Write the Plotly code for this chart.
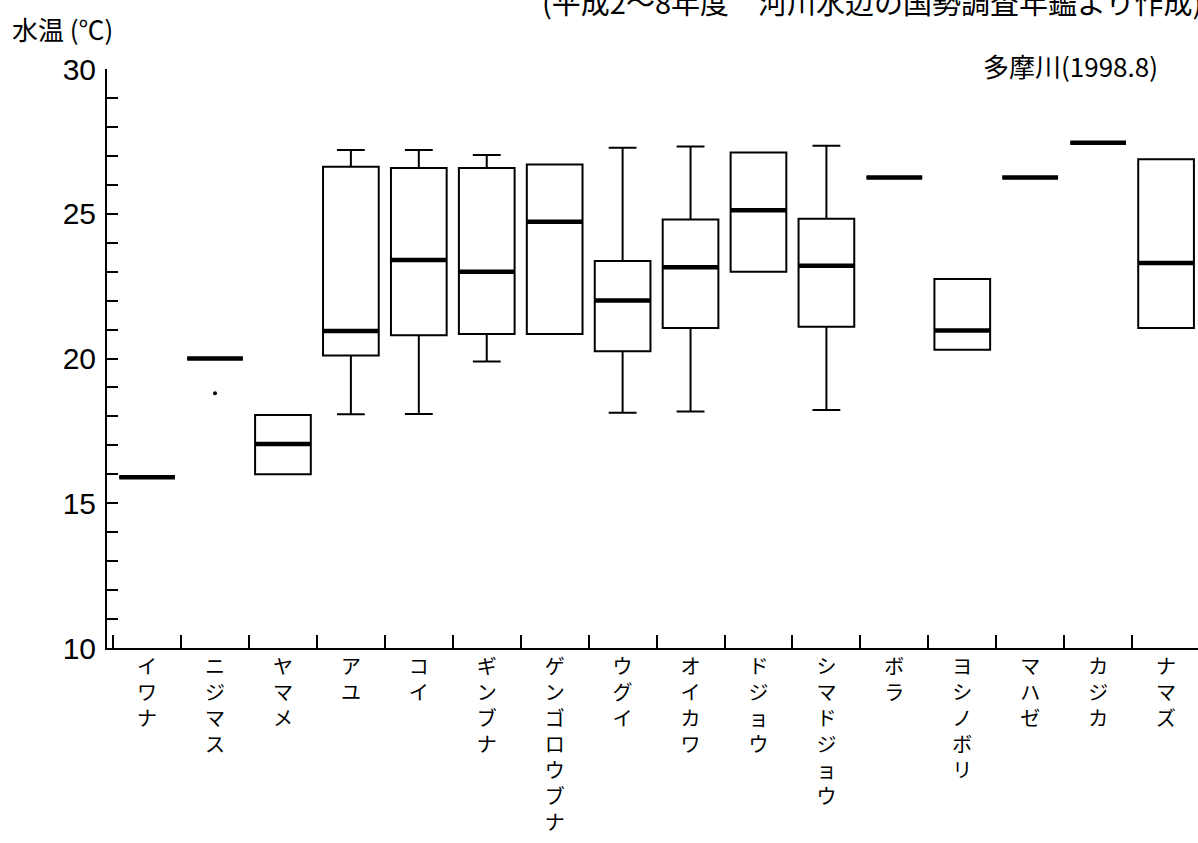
import plotly.graph_objects as go

categories = ["イワナ", "ニジマス", "ヤマメ", "アユ", "コイ", "ギンブナ", "ゲンゴロウブナ", "ウグイ",
              "オイカワ", "ドジョウ", "シマドジョウ", "ボラ", "ヨシノボリ", "マハゼ", "カジカ", "ナマズ"]
q1 = [15.9, 20.0, 16.0, 20.1, 20.8, 20.85, 20.85, 20.25, 21.05, 23.0, 21.1, 26.25, 20.3, 26.25, 27.45, 21.05]
median = [15.9, 20.0, 17.05, 20.95, 23.4, 23.0, 24.72, 22.0, 23.15, 25.12, 23.2, 26.25, 20.97, 26.25, 27.45, 23.3]
q3 = [15.9, 20.0, 18.05, 26.62, 26.58, 26.58, 26.7, 23.37, 24.8, 27.12, 24.83, 26.25, 22.75, 26.25, 27.45, 26.88]
lower = [15.9, 20.0, 16.0, 18.07, 18.08, 19.9, 20.85, 18.13, 18.17, 23.0, 18.22, 26.25, 20.3, 26.25, 27.45, 21.05]
upper = [15.9, 20.0, 18.05, 27.2, 27.2, 27.03, 26.7, 27.28, 27.32, 27.12, 27.35, 26.25, 22.75, 26.25, 27.45, 26.88]
outlier_cat = ["ニジマス"]
outlier_val = [18.8]

y_ticks = list(range(10, 31))
y_ticktext = [str(v) if v % 5 == 0 else "" for v in y_ticks]

def vertical(s):
    return "<br>".join(list(s))

fig = go.Figure()
fig.add_trace(go.Box(
    x=categories, q1=q1, median=median, q3=q3, lowerfence=lower, upperfence=upper,
    width=0.82, whiskerwidth=0.5, line=dict(color="black", width=2), fillcolor="white",
    boxpoints=False, showlegend=False, hoverinfo="skip"))
fig.add_trace(go.Box(
    x=categories, q1=median, median=median, q3=median, lowerfence=median, upperfence=median,
    width=0.82, whiskerwidth=0, line=dict(color="black", width=4.5), fillcolor="rgba(0,0,0,0)",
    boxpoints=False, showlegend=False, hoverinfo="skip"))
fig.add_trace(go.Scatter(
    x=outlier_cat, y=outlier_val, mode="markers",
    marker=dict(color="black", size=4), showlegend=False, hoverinfo="skip"))

jp = "Noto Sans CJK JP"
fig.update_layout(
    width=1198, height=843,
    margin=dict(l=107, r=0, t=69, b=195, autoexpand=False),
    paper_bgcolor="white", plot_bgcolor="white",
    boxmode="overlay",
    xaxis=dict(
        type="category", range=[-0.59, 15.47], categoryorder="array", categoryarray=categories,
        tickmode="array", tickvals=categories, ticktext=[vertical(c) for c in categories],
        tickson="boundaries", ticks="inside", ticklen=13, tickwidth=1.5, tickcolor="black",
        showline=True, linecolor="black", linewidth=1.5, showgrid=False, zeroline=False,
        tickfont=dict(family=jp, size=20, color="black"), tickangle=0, automargin=False),
    yaxis=dict(
        range=[10, 30], tickmode="array", tickvals=y_ticks, ticktext=y_ticktext,
        ticks="inside", ticklen=11, tickwidth=1.5, tickcolor="black",
        showline=True, linecolor="black", linewidth=2, showgrid=False, zeroline=False,
        tickfont=dict(family="Liberation Sans", size=30, color="black"), ticklabelstandoff=3,
        automargin=False),
    annotations=[
        dict(text="水温 (℃)", xref="paper", yref="paper", x=-0.089, y=1.0708,
             xanchor="left", yanchor="middle", showarrow=False,
             font=dict(family=jp, size=26, color="black")),
        dict(text="多摩川(1998.8)", xref="paper", yref="paper", x=0.9652, y=1.0069,
             xanchor="right", yanchor="middle", showarrow=False,
             font=dict(family=jp, size=26, color="black")),
        dict(text="(平成2～8年度　河川水辺の国勢調査年鑑より作成)", xref="paper", yref="paper",
             x=0.397, y=1.1174, xanchor="left", yanchor="middle", showarrow=False,
             font=dict(family=jp, size=29, color="black")),
    ],
)
fig.write_html("out.html", config={"displayModeBar": False},
               post_script="document.body.style.margin='0';")
